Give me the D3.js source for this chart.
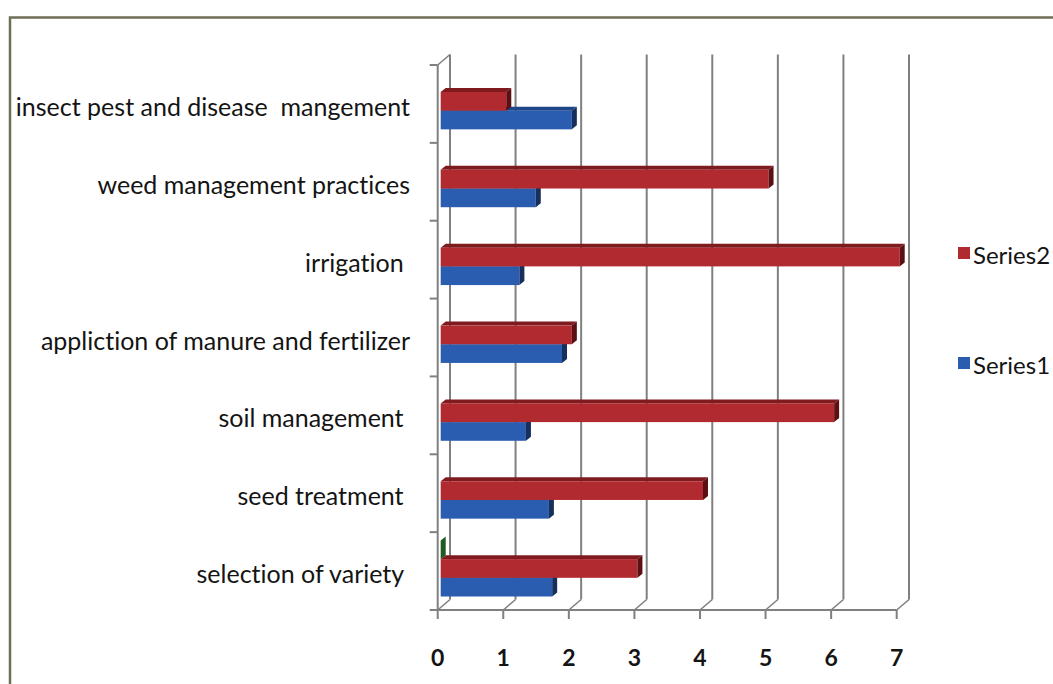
<!DOCTYPE html>
<html>
<head>
<meta charset="utf-8">
<script src="https://cdn.jsdelivr.net/npm/d3@7"></script>
<style>
  html, body { margin: 0; padding: 0; background: #ffffff; }
  svg { display: block; }
  text { white-space: pre; font-variant-ligatures: none; }
</style>
</head>
<body>
<svg id="chart" width="1053" height="684"></svg>
<script>
// ---- data ----
const categories = [
  "selection of variety ",
  "seed treatment ",
  "soil management ",
  "appliction of manure and fertilizer",
  "irrigation ",
  "weed management practices",
  "insect pest and disease  mangement"
];
const series1 = [1.7, 1.65, 1.3, 1.85, 1.2, 1.45, 2];
const series2 = [3, 4, 6, 2, 7, 5, 1];
const series3 = [0, null, null, null, null, null, null];
const legendNames = ["Series2", "Series1"];
const xTicks = [0, 1, 2, 3, 4, 5, 6, 7];

// ---- layout ----
const svg = d3.select("#chart");
const font = "Lato, 'Open Sans', sans-serif";

const x = d3.scaleLinear().domain([0, 7]).range([437.7, 896.7]);
const y = d3.scaleBand().domain(categories).range([610, 65]).paddingInner(0).paddingOuter(0);
const DX = 12.3, DY = -10.5;          // wall depth
const barOff = { dx: 3, dy: -2.6 };   // bar front plane offset
const barDepth = { dx: 5, dy: -4 };
const groupPad = 10.9;

const colors = {
  Series1: { front: "#2a5daf", top: "#1f4787", side: "#172f5c" },
  Series2: { front: "#b12a30", top: "#7f1b1f", side: "#5c1013" },
  Series3: { front: "#3c8a3c", top: "#2a6a2a", side: "#1f5a22" }
};

// frame
svg.append("path")
  .attr("d", "M10,684 L10,17.5 L1053,17.5")
  .attr("fill", "none").attr("stroke", "#6f6f58").attr("stroke-width", 2.5);

const gridColor = "#808080";
const grid = svg.append("g");

// back wall gridlines
grid.selectAll("line.vg").data(xTicks).join("line")
  .attr("x1", d => x(d) + DX).attr("x2", d => x(d) + DX)
  .attr("y1", 610 + DY).attr("y2", 65 + DY)
  .attr("stroke", gridColor).attr("stroke-width", 2);

// floor diagonals
grid.selectAll("line.fd").data(xTicks).join("line")
  .attr("x1", d => x(d)).attr("y1", 610)
  .attr("x2", d => x(d) + DX).attr("y2", 610 + DY)
  .attr("stroke", gridColor).attr("stroke-width", 1.6);

// floor front edge & ticks
grid.append("line").attr("x1", x(0)).attr("x2", x(7)).attr("y1", 610).attr("y2", 610)
  .attr("stroke", gridColor).attr("stroke-width", 2);
grid.selectAll("line.xt").data(xTicks).join("line")
  .attr("x1", d => x(d)).attr("x2", d => x(d)).attr("y1", 610).attr("y2", 619)
  .attr("stroke", gridColor).attr("stroke-width", 2);

// left wall
grid.append("line").attr("x1", x(0)).attr("x2", x(0)).attr("y1", 65).attr("y2", 610)
  .attr("stroke", gridColor).attr("stroke-width", 2);
grid.append("line").attr("x1", x(0)).attr("y1", 65).attr("x2", x(0) + DX).attr("y2", 65 + DY)
  .attr("stroke", gridColor).attr("stroke-width", 1.6);
const bounds = categories.map(c => y(c)).concat([y(categories[0]) + y.bandwidth()]);
grid.selectAll("line.yt").data(bounds).join("line")
  .attr("x1", x(0) - 8).attr("x2", x(0)).attr("y1", d => d).attr("y2", d => d)
  .attr("stroke", gridColor).attr("stroke-width", 2);

// ---- bars ----
const sub = d3.scaleBand().domain(["Series3", "Series2", "Series1"])
  .range([0, y.bandwidth() - 2 * groupPad]);
const allSeries = { Series1: series1, Series2: series2, Series3: series3 };
const bars = svg.append("g");
const drawOrder = ["Series1", "Series2", "Series3"];
drawOrder.forEach(name => {
  const vals = allSeries[name];
  const col = colors[name];
  vals.forEach((v, i) => {
    if (v === null) return;
    const cat = categories[i];
    const yt = y(cat) + groupPad + sub(name) + barOff.dy;
    const h = sub.bandwidth();
    const x0 = x(0) + barOff.dx;
    const x1 = x(v) + barOff.dx;
    const g = bars.append("g");
    g.append("path")
      .attr("d", `M${x0},${yt} L${x1},${yt} L${x1 + barDepth.dx},${yt + barDepth.dy} L${x0 + barDepth.dx},${yt + barDepth.dy} Z`)
      .attr("fill", col.top);
    g.append("rect")
      .attr("x", x0).attr("y", yt).attr("width", Math.max(0, x1 - x0)).attr("height", h)
      .attr("fill", col.front);
    g.append("path")
      .attr("d", `M${x1},${yt} L${x1 + barDepth.dx},${yt + barDepth.dy} L${x1 + barDepth.dx},${yt + h + barDepth.dy} L${x1},${yt + h} Z`)
      .attr("fill", col.side);
  });
});

// ---- labels ----
svg.append("g").selectAll("text").data(categories).join("text")
  .attr("x", 410)
  .attr("y", d => y(d) + y.bandwidth() / 2 + 2)
  .attr("text-anchor", "end")
  .attr("dominant-baseline", "central")
  .attr("font-family", font).attr("font-size", 25)
  .attr("fill", "#141414")
  .text(d => d);

svg.append("g").selectAll("text").data(xTicks).join("text")
  .attr("x", d => x(d))
  .attr("y", 657)
  .attr("text-anchor", "middle")
  .attr("dominant-baseline", "central")
  .attr("font-family", font).attr("font-size", 23).attr("font-weight", "bold")
  .attr("fill", "#141414")
  .text(d => d);

// legend
const leg = svg.append("g");
const legY = d3.scalePoint().domain(legendNames).range([253, 363]);
legendNames.forEach(n => {
  leg.append("rect").attr("x", 958).attr("y", legY(n) - 6).attr("width", 12).attr("height", 12)
    .attr("fill", colors[n].front);
  leg.append("text").attr("x", 973).attr("y", legY(n) + 1)
    .attr("dominant-baseline", "central")
    .attr("font-family", font).attr("font-size", 24).attr("fill", "#141414")
    .text(n);
});
</script>
</body>
</html>
